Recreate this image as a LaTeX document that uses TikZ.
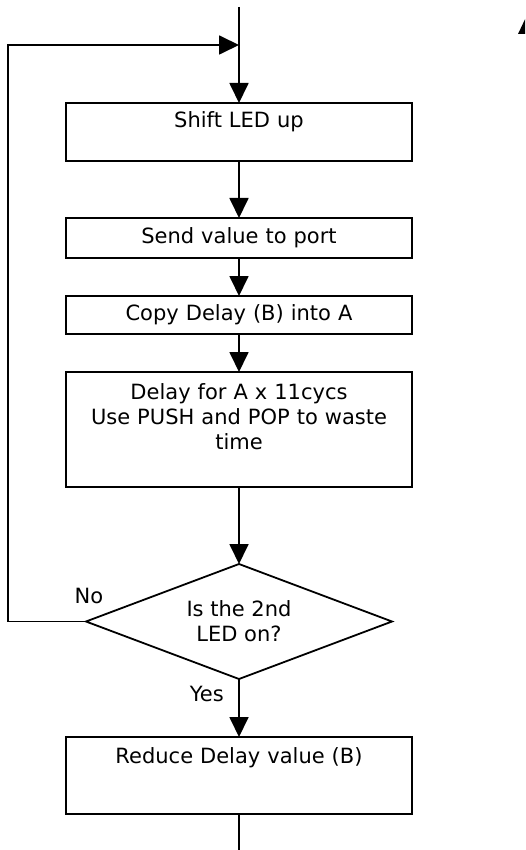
\documentclass[tikz,border=0pt]{standalone}
\usepackage{fontspec}
\setmainfont{DejaVu Sans}
\usetikzlibrary{arrows.meta,positioning,shapes.geometric}

\begin{document}
\begin{tikzpicture}[
  x=1pt,y=-1pt,
  font=\fontsize{21}{25}\selectfont,
  node distance=38pt,
  stepbox/.style={draw,line width=1.8pt,text width=346pt,inner xsep=0pt,inner ysep=0pt,outer sep=0pt,align=center},
  decision/.style={draw,line width=1.8pt,diamond,aspect=2.66,minimum width=306pt,minimum height=115pt,inner sep=0pt,outer sep=0pt,align=center},
  lbl/.style={inner sep=0pt},
  arrow/.style={-{Triangle[length=20pt,width=19pt]},line width=1.8pt},
  line/.style={line width=1.8pt}
]
\useasboundingbox (0,0) rectangle (525,850);
\clip (0,0) rectangle (525,850);
\coordinate (entry) at (239,7);
\coordinate (merge) at (239,45);
\coordinate (back) at (8,45);
\coordinate (exit) at (239,850);
\node[stepbox,anchor=north,text height=25pt,text depth=33pt] (shift) at (239,103) {Shift LED up};
\node[stepbox,below=57pt of shift,text height=25pt,text depth=15pt] (send) {Send value to port};
\node[stepbox,below=of send,text height=24pt,text depth=14pt] (copy) {Copy Delay (B) into A};
\node[stepbox,below=of copy,text height=27pt,text depth=88pt] (delay) {Delay for A x 11cycs\\Use PUSH and POP to waste\\time};
\node[decision,below=77pt of delay] (ledon) {Is the 2nd\\LED on?};
\node[stepbox,below=58pt of ledon,text height=26pt,text depth=51pt] (reduce) {Reduce Delay value (B)};
\node[lbl,above=18pt of ledon.west,xshift=3pt] (no) {No};
\node[lbl,below left=7pt and 15pt of ledon.south] (yes) {Yes};
% part of a shape cut off at the right edge
\fill (518,34) -- (527.5,14) -- (537,34) -- cycle;
\draw[arrow] (entry) -- (shift);
\draw[arrow] (shift) -- (send);
\draw[arrow] (send) -- (copy);
\draw[arrow] (copy) -- (delay);
\draw[arrow] (delay) -- (ledon);
\draw[arrow] (ledon) -- (reduce);
\draw[line] (reduce) -- (exit);
\draw[arrow] (ledon.west) -| (back) -- (merge);
\end{tikzpicture}
\end{document}
